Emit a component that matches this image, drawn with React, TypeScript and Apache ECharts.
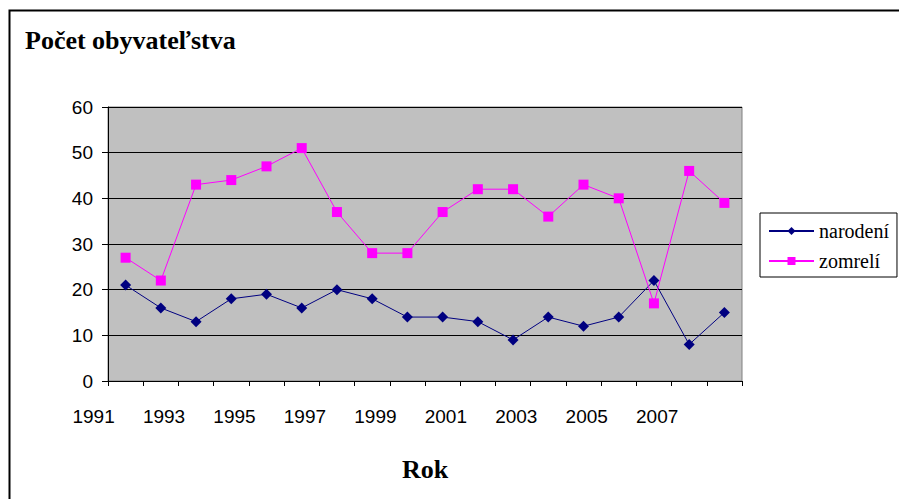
import React, { useEffect, useRef } from "react";
import * as echarts from "echarts";

const years = ["1991","1992","1993","1994","1995","1996","1997","1998","1999","2000","2001","2002","2003","2004","2005","2006","2007","2008"];
const narodeni = [21, 16, 13, 18, 19, 16, 20, 18, 14, 14, 13, 9, 14, 12, 14, 22, 8, 15];
const zomreli = [27, 22, 43, 44, 47, 51, 37, 28, 28, 37, 42, 42, 36, 43, 40, 17, 46, 39];
const titleText = "Počet obyvateľstva";
const xName = "Rok";

export default function App() {
  const ref = useRef<HTMLDivElement>(null);
  useEffect(() => {
    const chart = echarts.init(ref.current!, null, { renderer: "svg" });
    chart.setOption({
      animation: false,
      backgroundColor: "#ffffff",
      title: {
        text: titleText,
        left: 25,
        top: 27,
        padding: 0,
        textStyle: { fontFamily: "Liberation Serif", fontWeight: "bold", fontSize: 26, color: "#000" },
      },
      graphic: [
        {
          type: "rect",
          shape: { x: 9.5, y: 10.5, width: 900, height: 500 },
          style: { fill: "none", stroke: "#000", lineWidth: 2 },
          z: 100,
        },
      ],
      legend: {
        orient: "vertical",
        left: 760,
        top: 213,
        padding: [8, 8, 6, 8],
        itemGap: 10,
        itemWidth: 45,
        itemHeight: 10,
        borderColor: "#000",
        borderWidth: 1,
        backgroundColor: "#fff",
        textStyle: { fontFamily: "Liberation Serif", fontSize: 20, color: "#000" },
        data: ["narodení", "zomrelí"],
      },
      grid: {
        left: 108,
        top: 107,
        width: 634,
        height: 274,
        show: true,
        backgroundColor: "#C0C0C0",
        borderColor: "#808080",
        borderWidth: 1,
      },
      xAxis: {
        type: "category",
        data: years,
        boundaryGap: true,
        name: xName,
        nameLocation: "middle",
        nameGap: 75,
        nameTextStyle: { fontFamily: "Liberation Serif", fontWeight: "bold", fontSize: 26, color: "#000" },
        axisLine: { show: true, lineStyle: { color: "#000", width: 1 } },
        axisTick: { show: true, interval: 0, alignWithLabel: false, length: 5, lineStyle: { color: "#000" } },
        axisLabel: {
          interval: 1,
          margin: 26,
          padding: [0, 64, 0, 0],
          fontFamily: "Liberation Sans",
          fontSize: 19,
          color: "#000",
        },
        splitLine: { show: false },
      },
      yAxis: {
        type: "value",
        min: 0,
        max: 60,
        interval: 10,
        axisLine: { show: true, lineStyle: { color: "#000", width: 1 } },
        axisTick: { show: true, length: 6, lineStyle: { color: "#000" } },
        axisLabel: { margin: 15, fontFamily: "Liberation Sans", fontSize: 19, color: "#000" },
        splitLine: { show: true, lineStyle: { color: "#000", width: 1 } },
      },
      series: [
        {
          name: "narodení",
          type: "line",
          data: narodeni,
          symbol: "diamond",
          symbolSize: 11,
          lineStyle: { color: "#000080", width: 1 },
          itemStyle: { color: "#000080" },
        },
        {
          name: "zomrelí",
          type: "line",
          data: zomreli,
          symbol: "rect",
          symbolSize: 10,
          lineStyle: { color: "#FF00FF", width: 1 },
          itemStyle: { color: "#FF00FF" },
        },
      ],
    });
    return () => chart.dispose();
  }, []);
  return (
    <div
      ref={ref}
      style={{ position: "absolute", left: 0, top: 0, width: 899, height: 499 }}
    />
  );
}
